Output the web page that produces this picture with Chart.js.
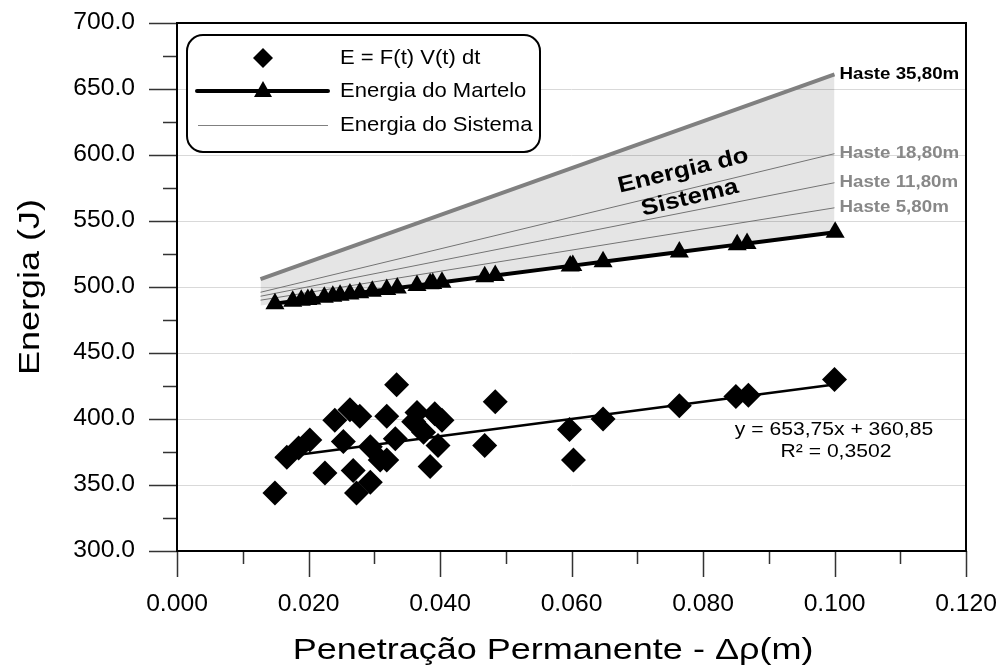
<!DOCTYPE html>
<html>
<head>
<meta charset="utf-8">
<script src="https://cdn.jsdelivr.net/npm/chart.js@4.4.1/dist/chart.umd.min.js"></script>
<style>
  html, body { margin: 0; padding: 0; background: #fff; }
</style>
</head>
<body>
<canvas id="energy-chart" width="1000" height="670"></canvas>
<script>
// measured energy E = F(t) V(t) dt against permanent penetration
const penetration = [
  0.0149, 0.0167, 0.0185, 0.0202, 0.0225, 0.0240, 0.0253, 0.0263, 0.0268, 0.0273,
  0.0278, 0.0294, 0.0294, 0.0309, 0.0319, 0.0319, 0.0332, 0.0334, 0.0360, 0.0365,
  0.0375, 0.0385, 0.0392, 0.0397, 0.0403, 0.0468, 0.0484, 0.0597, 0.0603, 0.0648,
  0.0764, 0.0850, 0.0869, 0.1000,
];
const energyMeasured = [
  344, 371, 378, 384, 359, 399, 383, 407, 361, 344,
  402, 379, 352, 369, 402, 369, 385, 426, 398, 405,
  390, 364, 404, 380, 399, 380, 413, 392, 369, 400,
  410, 417, 418, 430,
];

// hammer energy (triangles)
const hammerPenetration = [
  0.0149, 0.0176, 0.0189, 0.0199, 0.0205, 0.0224, 0.0237, 0.0248, 0.0263, 0.0278,
  0.0297, 0.0319, 0.0335, 0.0365, 0.0385, 0.0389, 0.0403, 0.0468, 0.0484, 0.0598,
  0.0602, 0.0648, 0.0764, 0.0852, 0.0867, 0.1001,
];
const hammerEnergy = [
  487.4, 489.2, 490.0, 490.6, 491.0, 492.2, 493.0, 493.7, 494.7, 495.6,
  496.8, 498.2, 499.2, 501.1, 502.4, 502.7, 503.6, 507.7, 508.7, 516.0,
  516.2, 519.2, 526.5, 532.1, 533.0, 541.5,
];

// system energy for each rod length (start / end of the line)
const systemPenetration = [0.0127, 0.1];
const systemLabels = ['Haste 35,80m', 'Haste 18,80m', 'Haste 11,80m', 'Haste 5,80m'];
const systemEnergy = [
  [506, 661],
  [496, 601],
  [493, 579],
  [490, 560],
];
const systemFloor = [486, 541.5];

// linear trend of the measured energy
const trendPenetration = [0.015, 0.1];
const trendEnergy = [370.7, 426.2];
const trendText = ['y = 653,75x + 360,85', 'R² = 0,3502'];

const legendLabels = ['E = F(t) V(t) dt', 'Energia do Martelo', 'Energia do Sistema'];

const FONT = "'Liberation Sans', Arial, sans-serif";

const toPoints = (xs, ys) => xs.map((x, i) => ({ x, y: ys[i] }));

/**
 * Text helper: the original lettering is a little wider than Arial,
 * so everything is drawn with a small horizontal stretch
 */
const drawText = (ctx, text, px, py, { size, bold = false, sx = 1, align = 'center', color = '#000', angle = 0 }) => {
  ctx.save();
  ctx.translate(px, py);
  if (angle) ctx.rotate(angle);
  ctx.scale(sx, 1);
  ctx.font = `${bold ? 'bold ' : ''}${size}px ${FONT}`;
  ctx.fillStyle = color;
  ctx.textAlign = align;
  ctx.textBaseline = 'middle';
  ctx.fillText(text, 0, 0);
  ctx.restore();
};

/**
 * Frame, tick marks, tick labels, axis titles, legend box and notes
 */
const decorations = {
  id: 'decorations',
  afterDraw: chart => {
    const { ctx, chartArea: area, scales } = chart;
    const xs = scales.x;
    const ys = scales.y;

    ctx.save();

    // tick marks, long on the labelled values
    ctx.strokeStyle = '#333';
    ctx.lineWidth = 1.5;
    ctx.beginPath();
    for (let v = 300; v <= 700; v += 25) {
      const py = Math.round(ys.getPixelForValue(v)) + 0.5;
      const len = v % 50 === 0 ? 28 : 14;
      ctx.moveTo(area.left - len, py);
      ctx.lineTo(area.left, py);
    }
    for (let i = 0; i <= 12; i++) {
      const px = Math.round(xs.getPixelForValue(i / 100)) + 0.5;
      const len = i % 2 === 0 ? 26 : 13;
      ctx.moveTo(px, area.bottom);
      ctx.lineTo(px, area.bottom + len);
    }
    ctx.stroke();

    // plot frame
    ctx.strokeStyle = '#000';
    ctx.lineWidth = 2;
    ctx.strokeRect(area.left, area.top, area.right - area.left, area.bottom - area.top);

    // tick labels
    ys.ticks.forEach(t => {
      drawText(ctx, t.value.toFixed(1), area.left - 42, ys.getPixelForValue(t.value), { size: 23.5, sx: 1.05, align: 'right' });
    });
    xs.ticks.forEach(t => {
      drawText(ctx, t.value.toFixed(3), xs.getPixelForValue(t.value), area.bottom + 54, { size: 23.5, sx: 1.05 });
    });

    // axis titles
    drawText(ctx, 'Penetração Permanente - Δρ(m)', 553, 651, { size: 30, sx: 1.2 });
    drawText(ctx, 'Energia (J)', 31, (area.top + area.bottom) / 2, { size: 30, sx: 1.2, angle: -Math.PI / 2 });

    // rod labels at the end of each system line
    systemLabels.forEach((label, i) => {
      const px = xs.getPixelForValue(systemPenetration[1]) + 5;
      const py = ys.getPixelForValue(systemEnergy[i][1]);
      drawText(ctx, label, px, py, { size: 16.3, bold: true, sx: 1.15, align: 'left', color: i === 0 ? '#000' : '#888' });
    });

    // "Energia do Sistema" inside the shaded band
    const angle = -13.6 * Math.PI / 180;
    const cx = 686.5;
    const cy = 184.5;
    const off = 14;
    drawText(ctx, 'Energia do', cx + off * Math.sin(angle), cy - off * Math.cos(angle), { size: 22.5, bold: true, sx: 1.15, angle });
    drawText(ctx, 'Sistema', cx - off * Math.sin(angle), cy + off * Math.cos(angle), { size: 22.5, bold: true, sx: 1.15, angle });

    // trend equation
    drawText(ctx, trendText[0], 834, 430, { size: 18.7, sx: 1.13 });
    drawText(ctx, trendText[1], 836, 452, { size: 18.7, sx: 1.13 });

    // legend
    ctx.fillStyle = '#fff';
    ctx.strokeStyle = '#000';
    ctx.lineWidth = 2;
    ctx.beginPath();
    ctx.roundRect(187, 35, 353, 117, 16);
    ctx.fill();
    ctx.stroke();

    const sampleX = 263;
    const rows = [58, 91, 125];

    // diamond
    ctx.fillStyle = '#000';
    ctx.beginPath();
    ctx.moveTo(sampleX, rows[0] - 10);
    ctx.lineTo(sampleX + 10, rows[0]);
    ctx.lineTo(sampleX, rows[0] + 10);
    ctx.lineTo(sampleX - 10, rows[0]);
    ctx.closePath();
    ctx.fill();

    // thick line with triangle
    ctx.lineWidth = 4;
    ctx.lineCap = 'round';
    ctx.beginPath();
    ctx.moveTo(197, rows[1]);
    ctx.lineTo(328, rows[1]);
    ctx.stroke();
    ctx.beginPath();
    ctx.moveTo(sampleX, rows[1] - 10);
    ctx.lineTo(sampleX + 9, rows[1] + 6);
    ctx.lineTo(sampleX - 9, rows[1] + 6);
    ctx.closePath();
    ctx.fill();

    // thin grey line
    ctx.strokeStyle = '#808080';
    ctx.lineWidth = 1;
    ctx.lineCap = 'butt';
    ctx.beginPath();
    ctx.moveTo(198, rows[2] + 0.5);
    ctx.lineTo(328, rows[2] + 0.5);
    ctx.stroke();

    legendLabels.forEach((label, i) => {
      drawText(ctx, label, 340, rows[i], { size: 21, sx: 1.05, align: 'left' });
    });

    ctx.restore();
  },
};

const systemDatasets = systemLabels.map((label, i) => ({
  label,
  data: toPoints(systemPenetration, systemEnergy[i]),
  borderColor: '#808080',
  borderWidth: i === 0 ? 4 : 1,
  pointRadius: 0,
  fill: i === 0 ? { target: 7 } : false,
  backgroundColor: 'rgba(0, 0, 0, 0.1)',
}));

const ctx = document.getElementById('energy-chart').getContext('2d');

new Chart(ctx, {
  type: 'line',
  data: {
    datasets: [
      {
        label: legendLabels[0],
        data: toPoints(penetration, energyMeasured),
        showLine: false,
        pointStyle: 'rectRot',
        pointRadius: 12.5,
        pointBackgroundColor: '#000',
        pointBorderColor: '#000',
        pointBorderWidth: 0,
      },
      {
        label: 'Linear',
        data: toPoints(trendPenetration, trendEnergy),
        borderColor: '#000',
        borderWidth: 2.5,
        pointRadius: 0,
      },
      {
        label: legendLabels[1],
        data: toPoints(hammerPenetration, hammerEnergy),
        borderColor: '#000',
        borderWidth: 4,
        pointStyle: 'triangle',
        pointRadius: 11,
        pointBackgroundColor: '#000',
        pointBorderColor: '#000',
        pointBorderWidth: 0,
      },
      ...systemDatasets,
      {
        label: 'floor',
        data: toPoints(systemPenetration, systemFloor),
        borderColor: 'rgba(0, 0, 0, 0)',
        borderWidth: 0,
        pointRadius: 0,
      },
    ],
  },
  options: {
    responsive: false,
    animation: false,
    devicePixelRatio: 1,
    layout: {
      padding: { top: 23, right: 34, left: 0, bottom: 0 },
    },
    plugins: {
      legend: { display: false },
      tooltip: { enabled: false },
    },
    scales: {
      x: {
        type: 'linear',
        min: 0,
        max: 0.12,
        afterFit: scale => {
          scale.height = 119;
        },
        grid: { display: false, drawTicks: false },
        border: { display: false },
        ticks: { stepSize: 0.02, display: false },
      },
      y: {
        min: 300,
        max: 700,
        afterFit: scale => {
          scale.width = 177;
        },
        grid: { color: '#d9d9d9', lineWidth: 1, drawTicks: false },
        border: { display: false },
        ticks: { stepSize: 50, display: false },
      },
    },
  },
  plugins: [decorations],
});
</script>
</body>
</html>
